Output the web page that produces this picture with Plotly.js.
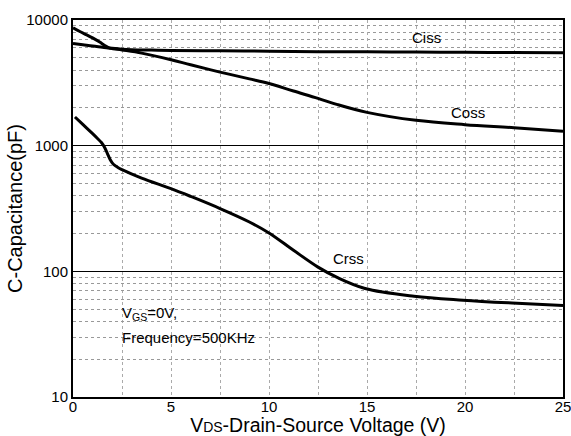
<!DOCTYPE html>
<html>
<head>
<meta charset="utf-8">
<script src="https://cdn.plot.ly/plotly-3.0.1.min.js"></script>
<style>html,body{margin:0;padding:0;background:#fff;}#chart{width:571px;height:436px;}</style>
</head>
<body>
<div id="chart"></div>
<script>
// Ciss
var cissV = [0, 0.5, 1, 1.5, 2, 2.5, 3, 4, 5, 7.5, 10, 12.5, 15, 17.5, 20, 22.5, 25];
var cissC = [6500, 6350, 6200, 6080, 5950, 5850, 5800, 5760, 5730, 5680, 5650, 5600, 5580, 5560, 5540, 5510, 5490];
// Coss
var cossV = [0, 0.35, 0.7, 1.0, 1.36, 1.6, 1.9, 2.5, 3.5, 5, 6, 7.5, 9, 10, 11.25, 12.5, 13.5, 15, 17.5, 20, 22.5, 25];
var cossC = [8670, 8100, 7620, 7200, 6670, 6300, 5970, 5780, 5450, 4830, 4400, 3850, 3400, 3120, 2720, 2380, 2120, 1840, 1590, 1470, 1390, 1305];
// Crss
var crssV = [0.1, 0.5, 1.0, 1.25, 1.45, 1.6, 1.75, 1.9, 2.06, 2.31, 2.5, 3.5, 5, 6, 7.5, 9, 10, 11.25, 12.5, 13.5, 14.9, 17.4, 19.9, 22.4, 25];
var crssC = [1690, 1475, 1245, 1140, 1060, 975, 870, 774, 712, 668, 645, 552, 455, 395, 316, 247, 202, 147, 108, 89, 73, 63.4, 59, 56, 53.5];

var xTickVals = [0, 5, 10, 15, 20, 25];
var yTickVals = [10, 100, 1000, 10000];

var labelNames = ["Ciss", "Coss", "Crss"];
var labelV = [18.06, 20.17, 14.05];
var labelC = [7300, 1850, 126];

var noteLines = ["V<sub>GS</sub>=0V,", "Frequency=500KHz"];
var noteV = [2.4, 2.4];
var noteC = [46.4, 29.8];

var FONT = "Liberation Sans, Arial, sans-serif";
var lineStyle = {color: "#000", width: 3, shape: "spline", smoothing: 1};

var traces = [
  {x: cissV, y: cissC, mode: "lines", line: lineStyle, hoverinfo: "skip"},
  {x: cossV, y: cossC, mode: "lines", line: lineStyle, hoverinfo: "skip"},
  {x: crssV, y: crssC, mode: "lines", line: lineStyle, hoverinfo: "skip"}
];

var annotations = [];
for (var i = 0; i < labelNames.length; i++) {
  annotations.push({x: labelV[i], y: Math.log10(labelC[i]), xref: "x", yref: "y",
    text: labelNames[i], showarrow: false, font: {family: FONT, size: 15, color: "#000"},
    xanchor: "center", yanchor: "middle"});
}
for (var j = 0; j < noteLines.length; j++) {
  annotations.push({x: noteV[j], y: Math.log10(noteC[j]), xref: "x", yref: "y",
    text: noteLines[j], showarrow: false, font: {family: FONT, size: 15, color: "#000"},
    xanchor: "left", yanchor: "middle"});
}

var layout = {
  width: 571, height: 436,
  margin: {l: 73, r: 8, t: 20, b: 39, pad: 0},
  paper_bgcolor: "#fff", plot_bgcolor: "#fff",
  showlegend: false,
  font: {family: FONT, color: "#000", size: 15},
  xaxis: {
    range: [0, 25], tickvals: xTickVals, ticks: "", ticklabeloverflow: "allow",
    ticklabelstandoff: -5,
    showgrid: true, gridcolor: "#aaaaaa", griddash: "dot", gridwidth: 1,
    minor: {dtick: 2.5, showgrid: true, gridcolor: "#aaaaaa", griddash: "dot", gridwidth: 1},
    showline: true, mirror: true, linecolor: "#000", linewidth: 2,
    zeroline: false,
    tickfont: {family: FONT, size: 15, color: "#000"},
    title: {text: "V<span style=\"font-size:14px\">DS</span>-Drain-Source Voltage (V)", font: {family: FONT, size: 19.5, color: "#000"}, standoff: 4}
  },
  yaxis: {
    type: "log", range: [1, 4], tickvals: yTickVals, tickformat: "d", ticks: "",
    showgrid: true, gridcolor: "#000", gridwidth: 1.5,
    minor: {dtick: "D1", showgrid: true, gridcolor: "#999999", griddash: "dot", gridwidth: 1},
    showline: true, mirror: true, linecolor: "#000", linewidth: 2,
    zeroline: false,
    tickfont: {family: FONT, size: 15, color: "#000"},
    title: {text: "C-Capacitance(pF)", font: {family: FONT, size: 20, color: "#000"}, standoff: -3}
  },
  annotations: annotations
};

Plotly.newPlot("chart", traces, layout, {staticPlot: true, displayModeBar: false});
</script>
</body>
</html>
